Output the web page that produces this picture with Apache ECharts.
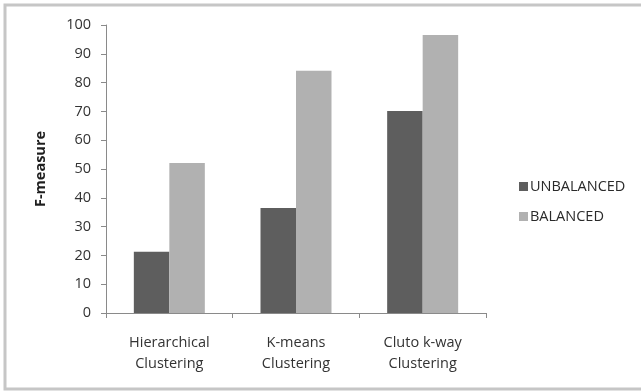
<!DOCTYPE html>
<html>
<head>
<meta charset="utf-8">
<script src="https://cdn.jsdelivr.net/npm/echarts@6/dist/echarts.min.js"></script>
<style>
  html, body { margin: 0; padding: 0; background: #fff; }
  #chart { width: 641px; height: 391px; }
</style>
</head>
<body>
<div id="chart"></div>
<script>
// F-measure by clustering method, unbalanced vs balanced data
const categories = ['Hierarchical\nClustering', 'K-means\nClustering', 'Cluto k-way\nClustering'];
const unbalanced = [21.3, 36.5, 70.1];
const balanced = [52.1, 84.1, 96.5];
const seriesNames = ['UNBALANCED', 'BALANCED'];

const font = '"Open Sans", "DejaVu Sans", sans-serif';
const chart = echarts.init(document.getElementById('chart'), null, { renderer: 'canvas' });

chart.setOption({
  animation: false,
  backgroundColor: '#fff',
  graphic: [{
    type: 'rect',
    shape: { x: 5, y: 5, width: 640, height: 384 },
    style: { fill: 'none', stroke: '#c6c6c6', lineWidth: 3 },
    silent: true
  }],
  grid: { left: 106, right: 155, top: 25, bottom: 78 },
  legend: {
    orient: 'vertical',
    left: 514,
    top: 174,
    itemWidth: 9,
    itemHeight: 9,
    itemGap: 15,
    icon: 'rect',
    textStyle: { fontFamily: font, fontSize: 14.5, color: '#2a2a2a', padding: [0, 0, 0, -3] },
    data: seriesNames
  },
  xAxis: {
    type: 'category',
    data: categories,
    axisLine: { lineStyle: { color: '#8a8a8a', width: 1 } },
    axisTick: { show: true, length: 5, lineStyle: { color: '#8a8a8a' } },
    axisLabel: { fontFamily: font, fontSize: 14.5, color: '#333', lineHeight: 21, margin: 19 }
  },
  yAxis: {
    type: 'value',
    min: 0,
    max: 100,
    interval: 10,
    name: 'F-measure',
    nameLocation: 'middle',
    nameGap: 58,
    nameTextStyle: { fontFamily: font, fontSize: 14.5, fontWeight: 'bold', color: '#1e1e1e' },
    axisLine: { show: true, lineStyle: { color: '#8a8a8a', width: 1 } },
    axisTick: { show: true, length: 5, lineStyle: { color: '#8a8a8a' } },
    splitLine: { show: false },
    axisLabel: { fontFamily: font, fontSize: 14.5, color: '#333', margin: 15 }
  },
  series: [
    {
      name: seriesNames[0],
      type: 'bar',
      data: unbalanced,
      barWidth: 35.5,
      barGap: '0%',
      itemStyle: { color: '#5e5e5e' }
    },
    {
      name: seriesNames[1],
      type: 'bar',
      data: balanced,
      barWidth: 35.5,
      barGap: '0%',
      itemStyle: { color: '#b1b1b1' }
    }
  ]
});
</script>
</body>
</html>
